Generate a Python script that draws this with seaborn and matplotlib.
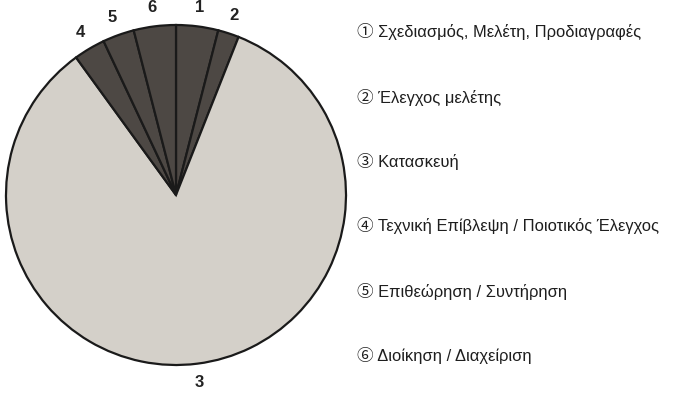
import matplotlib
matplotlib.use("Agg")
import matplotlib.pyplot as plt
import seaborn as sns

# Data
slice_labels = ["1", "2", "3", "4", "5", "6"]
shares = [4, 2, 84, 3, 3, 4]
legend_texts = [
    "① Σχεδιασμός, Μελέτη, Προδιαγραφές",
    "② Έλεγχος μελέτης",
    "③ Κατασκευή",
    "④ Τεχνική Επίβλεψη / Ποιοτικός Έλεγχος",
    "⑤ Επιθεώρηση / Συντήρηση",
    "⑥ Διοίκηση / Διαχείριση",
]

sns.set_theme(style="white")
plt.rcParams["font.family"] = ["Liberation Sans", "Noto Sans CJK SC", "DejaVu Sans"]

dark = "#4d4844"
light = "#d4d0c9"
colors = [dark, dark, light, dark, dark, dark]

W, H = 678, 418
fig = plt.figure(figsize=(W / 100, H / 100), dpi=100)
fig.patch.set_facecolor("white")

cx, cy, r = 176, 195, 170
ax = fig.add_axes([(cx - r) / W, (H - cy - r) / H, 2 * r / W, 2 * r / H])
wedges, texts = ax.pie(
    shares,
    labels=slice_labels,
    colors=colors,
    startangle=90,
    counterclock=False,
    labeldistance=1.11,
    wedgeprops=dict(edgecolor="#1a1a1a", linewidth=1.6),
    textprops=dict(fontsize=12, fontweight="bold", color="#222222"),
)
for t in texts:
    t.set_ha("center")
    t.set_va("center")
ax.set_xlim(-1, 1)
ax.set_ylim(-1, 1)
ax.set_aspect("equal")
ax.axis("off")

ys = [32, 97, 162, 225, 292, 356]
for txt, y in zip(legend_texts, ys):
    fig.text(357 / W, 1 - y / H, txt, ha="left", va="center",
             fontsize=11.9, color="#1e1e1e")

fig.savefig("out.png", dpi=100, facecolor="white")
